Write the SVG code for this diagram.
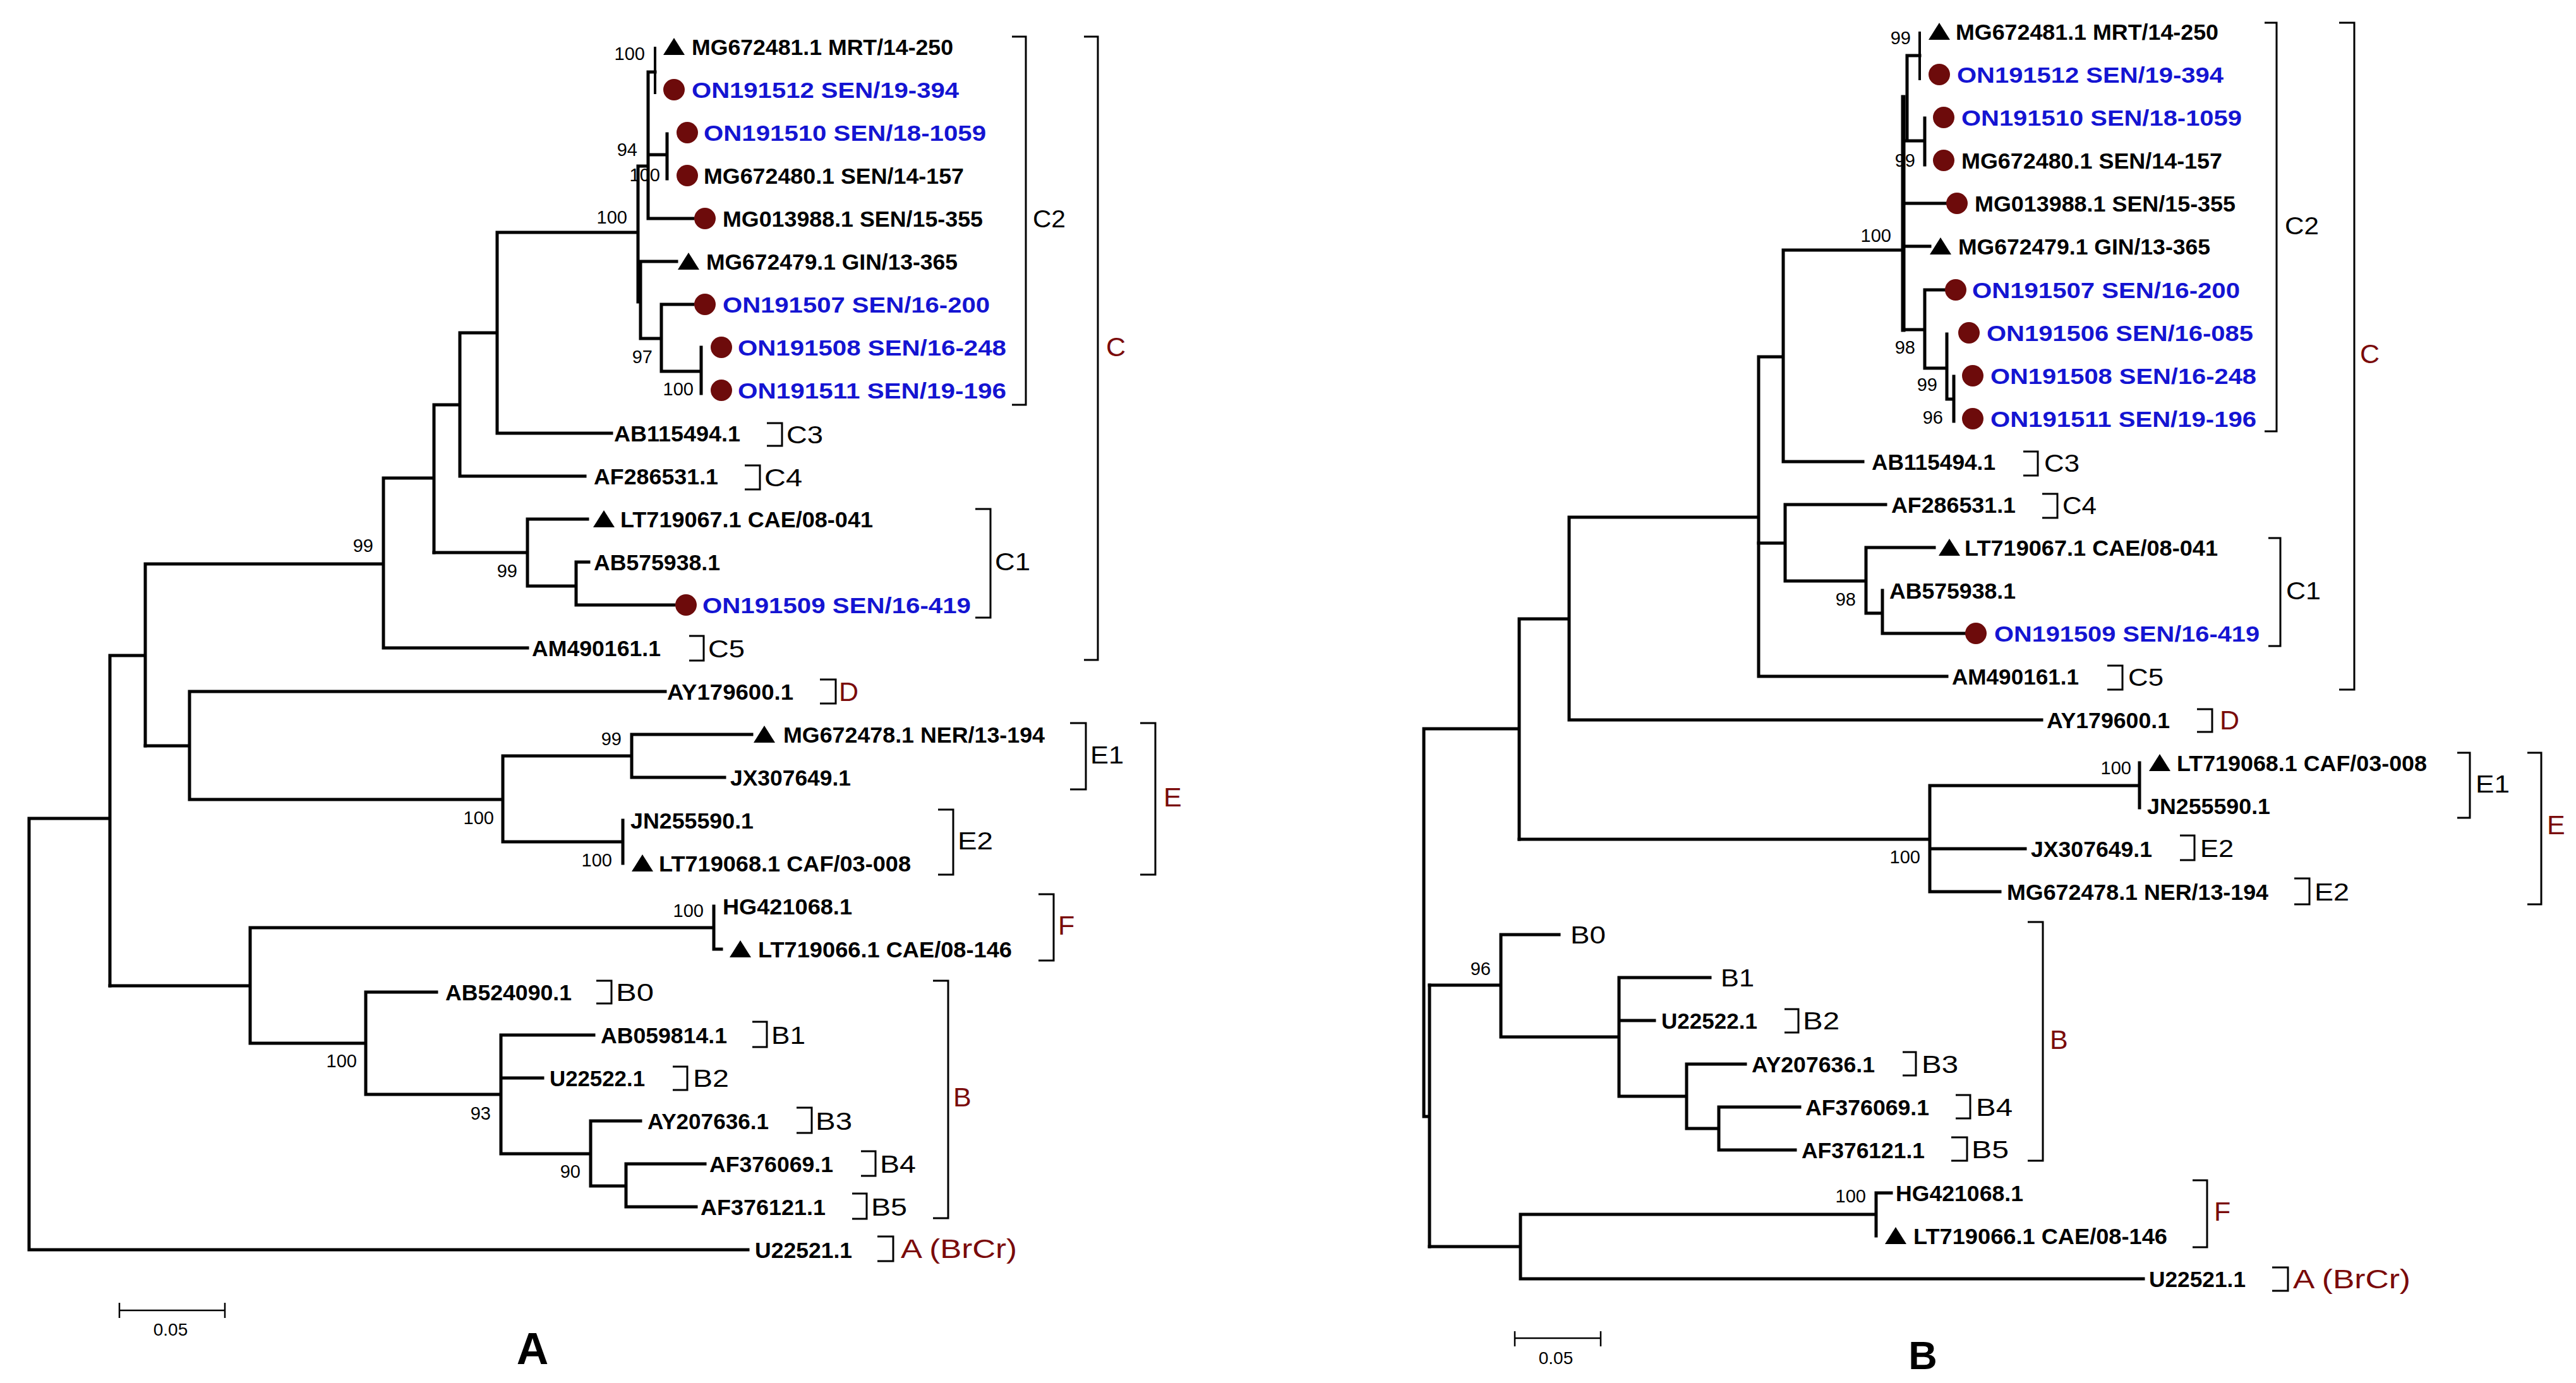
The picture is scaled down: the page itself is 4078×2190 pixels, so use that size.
<svg xmlns="http://www.w3.org/2000/svg" width="4078" height="2190" viewBox="0 0 4078 2190">
<style>
.t{fill:none;stroke:#000;stroke-width:5;stroke-linecap:square}
.tn{fill:none;stroke:#000;stroke-width:4;stroke-linecap:square}
.br{fill:none;stroke:#000;stroke-width:3}
.sb{fill:none;stroke:#000;stroke-width:2.5}
.lf{font-family:"Liberation Sans",Arial,sans-serif;font-weight:bold;font-size:35px;fill:#000}
.on{fill:#1414d2}
.bs{font-family:"Liberation Sans",Arial,sans-serif;font-size:29px;fill:#000;text-anchor:end}
.cl{font-family:"Liberation Sans",Arial,sans-serif;font-size:39px;fill:#000}
.rd{font-family:"Liberation Sans",Arial,sans-serif;font-size:43px;fill:#7a0a0a}
.pn{font-family:"Liberation Sans",Arial,sans-serif;font-weight:bold;fill:#000;text-anchor:middle}
.sc{font-family:"Liberation Sans",Arial,sans-serif;font-size:28px;fill:#000;text-anchor:middle}
.dot{fill:#6d0b0b}
.tri{fill:#000}
</style>
<defs>
<circle id="d" r="17" class="dot"/>
<path id="tr" d="M-17 13 L17 13 L0 -14 Z" class="tri"/>
</defs>
<rect width="4078" height="2190" fill="#fff"/>

<g id="connectors">
<path class="t" d="M46 1296V1979M46 1979H1184M46 1296H174M174 1038V1561M174 1038H230M230 893V1181M230 893H607M607 757V1026M607 1026H835M607 757H687M687 641V875M687 641H728M728 527V754M728 754H926M728 527H787M787 368V686M787 686H968M787 368H1010M1010 263V478M1010 263H1026M1026 114V346M1026 114H1037M1026 245H1056M1056 212V283M1026 346H1097M1014 414V536M1010 478H1014M1014 414H1071M1014 536H1047M1047 482V588M1047 482H1097M1047 588H1110M1110 550V623"/>
<path class="tn" d="M1037 76V147"/>
<path class="t" d="M687 875H835M835 822V928M835 822H930M835 928H912M912 890V958M912 890H932M912 958H1067M230 1181H300M300 1095V1266M300 1095H1053M300 1266H796M796 1197V1333M796 1197H1000M1000 1163V1231M1000 1163H1190M1000 1231H1147M796 1333H986M986 1299V1367M174 1561H396M396 1469V1652M396 1469H1130M1130 1435V1503M1130 1503H1142M396 1652H579M579 1571V1733M579 1571H691M579 1733H793M793 1639V1827M793 1639H940M793 1707H859M793 1827H935M935 1775V1878M935 1775H1014M935 1878H991M991 1843V1911M991 1843H1116M991 1911H1102"/>
<path class="t" d="M2254 1154V1768M2254 1768H2263M2263 1560V1974M2254 1154H2405M2405 980V1329M2405 980H2484M2484 819V1140M2484 1140H3232M2484 819H2784M2784 565V1071M2784 1071H3082M2784 565H2823M2823 396V731M2823 731H2949M2823 396H3013M3019 88V223M3019 88H3039M3013 223H3047M3047 187V261M3013 322H3081M3013 390H3055M3013 522H3047M3047 459V583M3047 459H3079M3047 583H3082M3082 529V632M3082 632H3093M3093 596V667"/>
<path class="t" style="stroke-width:7" d="M3013 154V522"/>
<path class="tn" d="M3039 52V125"/>
<path class="t" d="M2784 860H2826M2826 799V920M2826 799H2985M2826 920H2954M2954 867V971M2954 867H3062M2954 971H2980M2980 935V1003M2980 1003H3111M2405 1329H3055M3055 1244V1412M3055 1244H3387M3387 1208V1279M3055 1344H3206M3055 1412H3166M2263 1560H2376M2376 1480V1642M2376 1480H2468M2376 1642H2563M2563 1548V1736M2563 1548H2707M2563 1616H2619M2563 1736H2670M2670 1685V1787M2670 1685H2763M2670 1787H2721M2721 1753V1821M2721 1753H2849M2721 1821H2842M2263 1974H2407M2407 1923V2025M2407 1923H2970M2970 1889V1957M2970 1889H2994M2407 2025H3393"/>
</g>

<g id="tree-A-leaves">
<g id="A-MG672481"><use href="#tr" x="1067" y="74"/><text class="lf" x="1095" y="86.5" textLength="414" lengthAdjust="spacingAndGlyphs">MG672481.1 MRT/14-250</text></g>
<g id="A-ON191512"><use href="#d" x="1067" y="142"/><text class="lf on" x="1095" y="154.5" textLength="423" lengthAdjust="spacingAndGlyphs">ON191512 SEN/19-394</text></g>
<g id="A-ON191510"><use href="#d" x="1088" y="210"/><text class="lf on" x="1114" y="222.5" textLength="447" lengthAdjust="spacingAndGlyphs">ON191510 SEN/18-1059</text></g>
<g id="A-MG672480"><use href="#d" x="1088" y="278"/><text class="lf" x="1114" y="290.5" textLength="412" lengthAdjust="spacingAndGlyphs">MG672480.1 SEN/14-157</text></g>
<g id="A-MG013988"><use href="#d" x="1116" y="346"/><text class="lf" x="1144" y="358.5" textLength="412" lengthAdjust="spacingAndGlyphs">MG013988.1 SEN/15-355</text></g>
<g id="A-MG672479"><use href="#tr" x="1090" y="414"/><text class="lf" x="1118" y="426.5" textLength="398" lengthAdjust="spacingAndGlyphs">MG672479.1 GIN/13-365</text></g>
<g id="A-ON191507"><use href="#d" x="1116" y="482"/><text class="lf on" x="1144" y="494.5" textLength="423" lengthAdjust="spacingAndGlyphs">ON191507 SEN/16-200</text></g>
<g id="A-ON191508"><use href="#d" x="1142" y="550"/><text class="lf on" x="1168" y="562.5" textLength="425" lengthAdjust="spacingAndGlyphs">ON191508 SEN/16-248</text></g>
<g id="A-ON191511"><use href="#d" x="1142" y="618"/><text class="lf on" x="1168" y="630.5" textLength="425" lengthAdjust="spacingAndGlyphs">ON191511 SEN/19-196</text></g>
<g id="A-AB115494"><text class="lf" x="972" y="698.5" textLength="200" lengthAdjust="spacingAndGlyphs">AB115494.1</text></g>
<g id="A-AF286531"><text class="lf" x="940" y="766.5" textLength="197" lengthAdjust="spacingAndGlyphs">AF286531.1</text></g>
<g id="A-LT719067"><use href="#tr" x="956" y="822"/><text class="lf" x="982" y="834.5" textLength="400" lengthAdjust="spacingAndGlyphs">LT719067.1 CAE/08-041</text></g>
<g id="A-AB575938"><text class="lf" x="940" y="902.5" textLength="200" lengthAdjust="spacingAndGlyphs">AB575938.1</text></g>
<g id="A-ON191509"><use href="#d" x="1086" y="958"/><text class="lf on" x="1112" y="970.5" textLength="425" lengthAdjust="spacingAndGlyphs">ON191509 SEN/16-419</text></g>
<g id="A-AM490161"><text class="lf" x="842" y="1038.5" textLength="204" lengthAdjust="spacingAndGlyphs">AM490161.1</text></g>
<g id="A-AY179600"><text class="lf" x="1056" y="1107.5" textLength="200" lengthAdjust="spacingAndGlyphs">AY179600.1</text></g>
<g id="A-MG672478"><use href="#tr" x="1210" y="1163"/><text class="lf" x="1240" y="1175.5" textLength="414" lengthAdjust="spacingAndGlyphs">MG672478.1 NER/13-194</text></g>
<g id="A-JX307649"><text class="lf" x="1156" y="1243.5" textLength="191" lengthAdjust="spacingAndGlyphs">JX307649.1</text></g>
<g id="A-JN255590"><text class="lf" x="998" y="1311.5" textLength="195" lengthAdjust="spacingAndGlyphs">JN255590.1</text></g>
<g id="A-LT719068"><use href="#tr" x="1017" y="1367"/><text class="lf" x="1043" y="1379.5" textLength="399" lengthAdjust="spacingAndGlyphs">LT719068.1 CAF/03-008</text></g>
<g id="A-HG421068"><text class="lf" x="1144" y="1447.5" textLength="205" lengthAdjust="spacingAndGlyphs">HG421068.1</text></g>
<g id="A-LT719066"><use href="#tr" x="1172" y="1503"/><text class="lf" x="1200" y="1515.5" textLength="402" lengthAdjust="spacingAndGlyphs">LT719066.1 CAE/08-146</text></g>
<g id="A-AB524090"><text class="lf" x="705" y="1583.5" textLength="200" lengthAdjust="spacingAndGlyphs">AB524090.1</text></g>
<g id="A-AB059814"><text class="lf" x="951" y="1651.5" textLength="200" lengthAdjust="spacingAndGlyphs">AB059814.1</text></g>
<g id="A-U22522"><text class="lf" x="870" y="1719.5" textLength="151" lengthAdjust="spacingAndGlyphs">U22522.1</text></g>
<g id="A-AY207636"><text class="lf" x="1025" y="1787.5" textLength="192" lengthAdjust="spacingAndGlyphs">AY207636.1</text></g>
<g id="A-AF376069"><text class="lf" x="1123" y="1855.5" textLength="196" lengthAdjust="spacingAndGlyphs">AF376069.1</text></g>
<g id="A-AF376121"><text class="lf" x="1109" y="1923.5" textLength="198" lengthAdjust="spacingAndGlyphs">AF376121.1</text></g>
<g id="A-U22521"><text class="lf" x="1195" y="1991.5" textLength="154" lengthAdjust="spacingAndGlyphs">U22521.1</text></g>
</g>

<g id="tree-B-leaves">
<g id="B-MG672481"><use href="#tr" x="3070" y="50"/><text class="lf" x="3096" y="62.5" textLength="416" lengthAdjust="spacingAndGlyphs">MG672481.1 MRT/14-250</text></g>
<g id="B-ON191512"><use href="#d" x="3070" y="118"/><text class="lf on" x="3098" y="130.5" textLength="422" lengthAdjust="spacingAndGlyphs">ON191512 SEN/19-394</text></g>
<g id="B-ON191510"><use href="#d" x="3077" y="186"/><text class="lf on" x="3105" y="198.5" textLength="444" lengthAdjust="spacingAndGlyphs">ON191510 SEN/18-1059</text></g>
<g id="B-MG672480"><use href="#d" x="3077" y="254"/><text class="lf" x="3105" y="266.5" textLength="413" lengthAdjust="spacingAndGlyphs">MG672480.1 SEN/14-157</text></g>
<g id="B-MG013988"><use href="#d" x="3098" y="322"/><text class="lf" x="3126" y="334.5" textLength="413" lengthAdjust="spacingAndGlyphs">MG013988.1 SEN/15-355</text></g>
<g id="B-MG672479"><use href="#tr" x="3072" y="390"/><text class="lf" x="3100" y="402.5" textLength="399" lengthAdjust="spacingAndGlyphs">MG672479.1 GIN/13-365</text></g>
<g id="B-ON191507"><use href="#d" x="3096" y="459"/><text class="lf on" x="3122" y="471.5" textLength="424" lengthAdjust="spacingAndGlyphs">ON191507 SEN/16-200</text></g>
<g id="B-ON191506"><use href="#d" x="3117" y="527"/><text class="lf on" x="3145" y="539.5" textLength="422" lengthAdjust="spacingAndGlyphs">ON191506 SEN/16-085</text></g>
<g id="B-ON191508"><use href="#d" x="3123" y="595"/><text class="lf on" x="3151" y="607.5" textLength="421" lengthAdjust="spacingAndGlyphs">ON191508 SEN/16-248</text></g>
<g id="B-ON191511"><use href="#d" x="3123" y="663"/><text class="lf on" x="3151" y="675.5" textLength="421" lengthAdjust="spacingAndGlyphs">ON191511 SEN/19-196</text></g>
<g id="B-AB115494"><text class="lf" x="2963" y="743.5" textLength="196" lengthAdjust="spacingAndGlyphs">AB115494.1</text></g>
<g id="B-AF286531"><text class="lf" x="2994" y="811.5" textLength="197" lengthAdjust="spacingAndGlyphs">AF286531.1</text></g>
<g id="B-LT719067"><use href="#tr" x="3086" y="867"/><text class="lf" x="3110" y="879.5" textLength="401" lengthAdjust="spacingAndGlyphs">LT719067.1 CAE/08-041</text></g>
<g id="B-AB575938"><text class="lf" x="2991" y="947.5" textLength="200" lengthAdjust="spacingAndGlyphs">AB575938.1</text></g>
<g id="B-ON191509"><use href="#d" x="3128" y="1003"/><text class="lf on" x="3157" y="1015.5" textLength="420" lengthAdjust="spacingAndGlyphs">ON191509 SEN/16-419</text></g>
<g id="B-AM490161"><text class="lf" x="3090" y="1083.5" textLength="201" lengthAdjust="spacingAndGlyphs">AM490161.1</text></g>
<g id="B-AY179600"><text class="lf" x="3240" y="1152.5" textLength="195" lengthAdjust="spacingAndGlyphs">AY179600.1</text></g>
<g id="B-LT719068"><use href="#tr" x="3419" y="1208"/><text class="lf" x="3446" y="1220.5" textLength="396" lengthAdjust="spacingAndGlyphs">LT719068.1 CAF/03-008</text></g>
<g id="B-JN255590"><text class="lf" x="3399" y="1288.5" textLength="195" lengthAdjust="spacingAndGlyphs">JN255590.1</text></g>
<g id="B-JX307649"><text class="lf" x="3215" y="1356.5" textLength="192" lengthAdjust="spacingAndGlyphs">JX307649.1</text></g>
<g id="B-MG672478"><text class="lf" x="3177" y="1424.5" textLength="414" lengthAdjust="spacingAndGlyphs">MG672478.1 NER/13-194</text></g>
<g id="B-B0"><text class="cl" x="2486" y="1494" textLength="56" lengthAdjust="spacingAndGlyphs">B0</text></g>
<g id="B-B1"><text class="cl" x="2724" y="1562" textLength="53" lengthAdjust="spacingAndGlyphs">B1</text></g>
<g id="B-U22522"><text class="lf" x="2630" y="1628.5" textLength="152" lengthAdjust="spacingAndGlyphs">U22522.1</text></g>
<g id="B-AY207636"><text class="lf" x="2773" y="1697.5" textLength="195" lengthAdjust="spacingAndGlyphs">AY207636.1</text></g>
<g id="B-AF376069"><text class="lf" x="2858" y="1765.5" textLength="196" lengthAdjust="spacingAndGlyphs">AF376069.1</text></g>
<g id="B-AF376121"><text class="lf" x="2852" y="1833.5" textLength="195" lengthAdjust="spacingAndGlyphs">AF376121.1</text></g>
<g id="B-HG421068"><text class="lf" x="3001" y="1901.5" textLength="202" lengthAdjust="spacingAndGlyphs">HG421068.1</text></g>
<g id="B-LT719066"><use href="#tr" x="3001" y="1957"/><text class="lf" x="3029" y="1969.5" textLength="402" lengthAdjust="spacingAndGlyphs">LT719066.1 CAE/08-146</text></g>
<g id="B-U22521"><text class="lf" x="3402" y="2037.5" textLength="153" lengthAdjust="spacingAndGlyphs">U22521.1</text></g>
</g>

<g id="bootstrap-A">
<text class="bs" x="1021" y="95">100</text>
<text class="bs" x="1009" y="247">94</text>
<text class="bs" x="1045" y="287">100</text>
<text class="bs" x="993" y="354">100</text>
<text class="bs" x="1033" y="575">97</text>
<text class="bs" x="1098" y="626">100</text>
<text class="bs" x="591" y="874">99</text>
<text class="bs" x="819" y="914">99</text>
<text class="bs" x="984" y="1180">99</text>
<text class="bs" x="782" y="1305">100</text>
<text class="bs" x="969" y="1372">100</text>
<text class="bs" x="1114" y="1452">100</text>
<text class="bs" x="565" y="1690">100</text>
<text class="bs" x="777" y="1773">93</text>
<text class="bs" x="919" y="1865">90</text>
</g>
<g id="bootstrap-B">
<text class="bs" x="3025" y="70">99</text>
<text class="bs" x="3032" y="264">99</text>
<text class="bs" x="2994" y="383">100</text>
<text class="bs" x="3032" y="560">98</text>
<text class="bs" x="3067" y="619">99</text>
<text class="bs" x="3076" y="671">96</text>
<text class="bs" x="2938" y="959">98</text>
<text class="bs" x="3374" y="1226">100</text>
<text class="bs" x="3040" y="1367">100</text>
<text class="bs" x="2360" y="1544">96</text>
<text class="bs" x="2954" y="1904">100</text>
</g>

<g id="clades-A">
<g id="A-C2"><path class="br" d="M1602 58H1624V641H1602"/><text class="cl" x="1635" y="360" textLength="52" lengthAdjust="spacingAndGlyphs">C2</text></g>
<g id="A-C"><path class="br" d="M1716 58H1738V1045H1716"/><text class="rd" x="1751" y="564">C</text></g>
<g id="A-C3"><path class="br" d="M1214 670H1238V706H1214"/><text class="cl" x="1245" y="702" textLength="58" lengthAdjust="spacingAndGlyphs">C3</text></g>
<g id="A-C4"><path class="br" d="M1179 737H1203V775H1179"/><text class="cl" x="1210" y="770" textLength="60" lengthAdjust="spacingAndGlyphs">C4</text></g>
<g id="A-C1"><path class="br" d="M1544 806H1568V978H1544"/><text class="cl" x="1575" y="903" textLength="56" lengthAdjust="spacingAndGlyphs">C1</text></g>
<g id="A-C5"><path class="br" d="M1091 1007H1114V1046H1091"/><text class="cl" x="1121" y="1041" textLength="58" lengthAdjust="spacingAndGlyphs">C5</text></g>
<g id="A-D"><path class="br" d="M1298 1076H1323V1114H1298"/><text class="rd" x="1328" y="1110">D</text></g>
<g id="A-E1"><path class="br" d="M1694 1145H1719V1250H1694"/><text class="cl" x="1726" y="1209" textLength="53" lengthAdjust="spacingAndGlyphs">E1</text></g>
<g id="A-E"><path class="br" d="M1805 1145H1829V1385H1805"/><text class="rd" x="1842" y="1277">E</text></g>
<g id="A-E2"><path class="br" d="M1485 1282H1509V1385H1485"/><text class="cl" x="1516" y="1345" textLength="56" lengthAdjust="spacingAndGlyphs">E2</text></g>
<g id="A-F"><path class="br" d="M1644 1416H1668V1521H1644"/><text class="rd" x="1675" y="1480">F</text></g>
<g id="A-B"><path class="br" d="M1477 1553H1501V1929H1477"/><text class="rd" x="1509" y="1752">B</text></g>
<g id="A-B0"><path class="br" d="M944 1553H968V1589H944"/><text class="cl" x="975" y="1585" textLength="60" lengthAdjust="spacingAndGlyphs">B0</text></g>
<g id="A-B1"><path class="br" d="M1191 1618H1214V1658H1191"/><text class="cl" x="1221" y="1653" textLength="54" lengthAdjust="spacingAndGlyphs">B1</text></g>
<g id="A-B2"><path class="br" d="M1065 1689H1088V1726H1065"/><text class="cl" x="1097" y="1721" textLength="57" lengthAdjust="spacingAndGlyphs">B2</text></g>
<g id="A-B3"><path class="br" d="M1261 1754H1285V1794H1261"/><text class="cl" x="1291" y="1789" textLength="58" lengthAdjust="spacingAndGlyphs">B3</text></g>
<g id="A-B4"><path class="br" d="M1363 1823H1386V1862H1363"/><text class="cl" x="1393" y="1857" textLength="57" lengthAdjust="spacingAndGlyphs">B4</text></g>
<g id="A-B5"><path class="br" d="M1349 1890H1372V1930H1349"/><text class="cl" x="1379" y="1925" textLength="57" lengthAdjust="spacingAndGlyphs">B5</text></g>
<g id="A-A"><path class="br" d="M1389 1958H1414V1997H1389"/><text class="rd" x="1426" y="1992" textLength="184" lengthAdjust="spacingAndGlyphs">A (BrCr)</text></g>
</g>

<g id="clades-B">
<g id="B-C2"><path class="br" d="M3585 36H3604V683H3585"/><text class="cl" x="3617" y="371" textLength="54" lengthAdjust="spacingAndGlyphs">C2</text></g>
<g id="B-C"><path class="br" d="M3703 36H3727V1092H3703"/><text class="rd" x="3736" y="575">C</text></g>
<g id="B-C3"><path class="br" d="M3203 715H3226V753H3203"/><text class="cl" x="3236" y="747" textLength="56" lengthAdjust="spacingAndGlyphs">C3</text></g>
<g id="B-C4"><path class="br" d="M3233 782H3257V820H3233"/><text class="cl" x="3265" y="814" textLength="54" lengthAdjust="spacingAndGlyphs">C4</text></g>
<g id="B-C1"><path class="br" d="M3591 852H3610V1023H3591"/><text class="cl" x="3619" y="949" textLength="55" lengthAdjust="spacingAndGlyphs">C1</text></g>
<g id="B-C5"><path class="br" d="M3336 1054H3360V1092H3336"/><text class="cl" x="3369" y="1086" textLength="56" lengthAdjust="spacingAndGlyphs">C5</text></g>
<g id="B-D"><path class="br" d="M3478 1123H3502V1159H3478"/><text class="rd" x="3514" y="1155">D</text></g>
<g id="B-E1"><path class="br" d="M3890 1192H3910V1295H3890"/><text class="cl" x="3919" y="1255" textLength="54" lengthAdjust="spacingAndGlyphs">E1</text></g>
<g id="B-E"><path class="br" d="M4001 1192H4023V1432H4001"/><text class="rd" x="4032" y="1321">E</text></g>
<g id="B-E2a"><path class="br" d="M3451 1323H3474V1362H3451"/><text class="cl" x="3483" y="1357" textLength="53" lengthAdjust="spacingAndGlyphs">E2</text></g>
<g id="B-E2b"><path class="br" d="M3632 1391H3656V1432H3632"/><text class="cl" x="3664" y="1426" textLength="55" lengthAdjust="spacingAndGlyphs">E2</text></g>
<g id="B-B"><path class="br" d="M3210 1460H3234V1838H3210"/><text class="rd" x="3245" y="1661">B</text></g>
<g id="B-B2"><path class="br" d="M2825 1598H2847V1635H2825"/><text class="cl" x="2854" y="1630" textLength="58" lengthAdjust="spacingAndGlyphs">B2</text></g>
<g id="B-B3"><path class="br" d="M3012 1666H3033V1703H3012"/><text class="cl" x="3042" y="1699" textLength="58" lengthAdjust="spacingAndGlyphs">B3</text></g>
<g id="B-B4"><path class="br" d="M3096 1734H3119V1771H3096"/><text class="cl" x="3128" y="1767" textLength="58" lengthAdjust="spacingAndGlyphs">B4</text></g>
<g id="B-B5"><path class="br" d="M3089 1801H3114V1838H3089"/><text class="cl" x="3121" y="1834" textLength="59" lengthAdjust="spacingAndGlyphs">B5</text></g>
<g id="B-F"><path class="br" d="M3471 1869H3494V1975H3471"/><text class="rd" x="3505" y="1933">F</text></g>
<g id="B-A"><path class="br" d="M3597 2007H3622V2044H3597"/><text class="rd" x="3630" y="2040" textLength="186" lengthAdjust="spacingAndGlyphs">A (BrCr)</text></g>
</g>

<g id="scale-A">
<path class="sb" d="M189 2075H356M189 2063V2087M356 2063V2087"/>
<text class="sc" x="270" y="2115">0.05</text>
</g>
<g id="scale-B">
<path class="sb" d="M2398 2119H2534M2398 2108V2132M2534 2108V2132"/>
<text class="sc" x="2463" y="2160">0.05</text>
</g>
<g id="panel-A"><text class="pn" x="843" y="2160" font-size="70">A</text></g>
<g id="panel-B"><text class="pn" x="3044" y="2168" font-size="63">B</text></g>
</svg>
